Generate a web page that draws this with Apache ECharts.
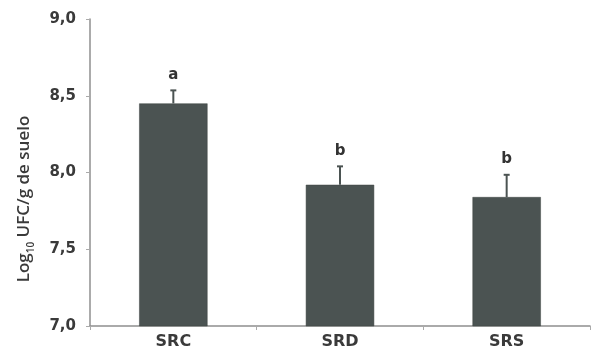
<!DOCTYPE html>
<html>
<head>
<meta charset="utf-8">
<script src="https://cdn.jsdelivr.net/npm/echarts@6/dist/echarts.min.js"></script>
<style>html,body{margin:0;padding:0;background:#fff;}#c{width:594px;height:350px;}</style>
</head>
<body>
<div id="c"></div>
<script>
var categories = ['SRC', 'SRD', 'SRS'];
var means = [8.45, 7.92, 7.84];
var errors = [0.085, 0.12, 0.145];
var letters = ['a', 'b', 'b'];
var yTicks = [7.0, 7.5, 8.0, 8.5, 9.0];
var yTitleMain = 'Log';
var yTitleSub = '10';
var yTitleRest = ' UFC/g de suelo';

var chart = echarts.init(document.getElementById('c'), null, {renderer: 'canvas'});
var errData = categories.map(function (c, i) { return [i, means[i], means[i] + errors[i]]; });
var letterData = categories.map(function (c, i) { return [i, means[i] + errors[i], letters[i]]; });

chart.setOption({
  animation: false,
  backgroundColor: '#ffffff',
  grid: {left: 90, right: 4, top: 19, bottom: 24},
  graphic: [{
    type: 'text',
    x: 22, y: 199,
    rotation: Math.PI / 2,
    style: {
      text: '{a|' + yTitleMain + '}{s|' + yTitleSub + '}{a|' + yTitleRest + '}',
      align: 'center', verticalAlign: 'middle',
      rich: {
        a: {fontFamily: 'Open Sans', fontWeight: 600, fontSize: 17, fill: '#3a3a3a', lineHeight: 22, verticalAlign: 'bottom'},
        s: {fontFamily: 'Open Sans', fontWeight: 600, fontSize: 10, fill: '#3a3a3a', lineHeight: 16, verticalAlign: 'bottom', padding: [0, 0, -3, 0]}
      }
    }
  }],
  xAxis: {
    type: 'category',
    data: categories,
    axisLine: {lineStyle: {color: '#8f8f8f', width: 1.5}},
    axisTick: {show: true, length: 4, lineStyle: {color: '#aaaaaa'}},
    axisLabel: {
      color: '#3a3a3a', fontFamily: 'DejaVu Sans', fontWeight: 'bold', fontSize: 16, margin: 8
    }
  },
  yAxis: {
    type: 'value',
    min: yTicks[0], max: yTicks[yTicks.length - 1], interval: 0.5,
    splitLine: {show: false},
    axisLine: {show: true, lineStyle: {color: '#8f8f8f', width: 1.5}},
    axisTick: {show: true, length: 4, lineStyle: {color: '#aaaaaa'}},
    axisLabel: {
      color: '#3a3a3a', fontFamily: 'DejaVu Sans', fontWeight: 'bold', fontSize: 15, margin: 14,
      formatter: function (v) { return v.toFixed(1).replace('.', ','); }
    }
  },
  series: [
    {
      type: 'bar',
      data: means,
      barWidth: '41%',
      itemStyle: {color: '#4b5352', borderColor: '#3e4443', borderWidth: 0.5},
      z: 2
    },
    {
      type: 'custom',
      data: errData,
      z: 3,
      renderItem: function (params, api) {
        var x = api.value(0);
        var lo = api.coord([x, api.value(1)]);
        var hi = api.coord([x, api.value(2)]);
        var cap = 3;
        return {
          type: 'group',
          children: [
            {type: 'line', shape: {x1: lo[0], y1: lo[1], x2: hi[0], y2: hi[1]}, style: {stroke: '#4b5352', lineWidth: 2}},
            {type: 'line', shape: {x1: hi[0] - cap, y1: hi[1], x2: hi[0] + cap, y2: hi[1]}, style: {stroke: '#4b5352', lineWidth: 2}}
          ]
        };
      }
    },
    {
      type: 'custom',
      data: letterData,
      z: 4,
      renderItem: function (params, api) {
        var p = api.coord([api.value(0), api.value(1)]);
        return {
          type: 'text',
          style: {
            x: p[0], y: p[1] - 8, text: letters[params.dataIndex],
            align: 'center', verticalAlign: 'bottom',
            font: 'bold 15px "DejaVu Sans"', fill: '#333333'
          }
        };
      }
    }
  ]
});
</script>
</body>
</html>
